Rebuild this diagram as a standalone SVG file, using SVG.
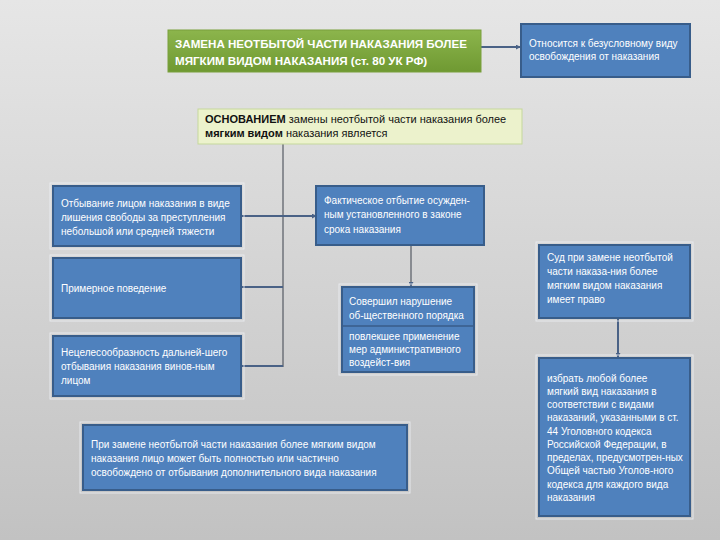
<svg xmlns="http://www.w3.org/2000/svg" width="720" height="540" viewBox="0 0 720 540">
<defs>
<linearGradient id="bg" x1="0" y1="0" x2="0" y2="1">
<stop offset="0" stop-color="#e6e6e6"/>
<stop offset="1" stop-color="#c2c2c2"/>
</linearGradient>
<linearGradient id="green" x1="0" y1="0" x2="0" y2="1">
<stop offset="0" stop-color="#8cb54c"/>
<stop offset="1" stop-color="#6f9932"/>
</linearGradient>
<marker id="arr" viewBox="0 0 6 6" refX="5" refY="3" markerWidth="5" markerHeight="5" markerUnits="userSpaceOnUse" orient="auto">
<path d="M0,0 L6,3 L0,6 z" fill="#4a6286"/>
</marker>
<style>
.box{fill:#4f81bd;stroke:#385d8a;stroke-width:2}
.halo{fill:none;stroke:#eef0f4;stroke-width:1;opacity:0.8}
.t{font-family:"Liberation Sans",Arial,sans-serif;font-size:10px;fill:#ffffff}
.tb{font-family:"Liberation Sans",Arial,sans-serif;font-size:11.6px;font-weight:bold;fill:#ffffff}
.tk{font-family:"Liberation Sans",Arial,sans-serif;font-size:11px;fill:#111111}
.conn{stroke:#4a6286;stroke-width:2;fill:none}
.thin{stroke:#555a63;stroke-width:1.2;fill:none}
</style>
</defs>
<rect width="720" height="540" fill="url(#bg)"/>

<g id="connectors">
<line class="conn" x1="481" y1="47" x2="520" y2="47" marker-end="url(#arr)"/>
<line class="thin" x1="283" y1="144" x2="283" y2="367"/>
<line class="conn" x1="241" y1="216" x2="316" y2="216" marker-start="url(#arr)" marker-end="url(#arr)"/>
<line class="conn" x1="241" y1="287" x2="283" y2="287" marker-start="url(#arr)"/>
<line class="conn" x1="241" y1="366" x2="283" y2="366" marker-start="url(#arr)"/>
<line class="thin" x1="411" y1="245" x2="411" y2="286" marker-end="url(#arr)"/>
<line class="conn" x1="618" y1="318" x2="618" y2="357" marker-end="url(#arr)"/>
</g>

<g id="title">
<rect x="168" y="30" width="313" height="42" fill="url(#green)" stroke="#7aa03c" stroke-width="1"/>
<text class="tb" x="175" y="48">ЗАМЕНА НЕОТБЫТОЙ ЧАСТИ НАКАЗАНИЯ БОЛЕЕ</text>
<text class="tb" x="175" y="65">МЯГКИМ ВИДОМ НАКАЗАНИЯ (ст. 80 УК РФ)</text>
</g>

<g id="node-otnositsya">
<rect class="box" x="521" y="24" width="169" height="53"/>
<text class="t" x="529" y="47">Относится к безусловному виду</text>
<text class="t" x="529" y="60">освобождения от наказания</text>
</g>

<g id="node-osnovaniem">
<rect x="198" y="109" width="324" height="35" fill="#ecf2cc" stroke="#c5d89c" stroke-width="1"/>
<text class="tk" x="205" y="123"><tspan font-weight="bold">ОСНОВАНИЕМ</tspan> замены неотбытой части наказания более</text>
<text class="tk" x="205" y="137"><tspan font-weight="bold">мягким видом</tspan> наказания является</text>
</g>

<g id="node-otbyvanie">
<rect class="halo" x="50" y="183" width="194" height="66"/>
<rect class="box" x="53" y="186" width="188" height="60"/>
<text class="t" x="61" y="207">Отбывание лицом наказания в виде</text>
<text class="t" x="61" y="221">лишения свободы за преступления</text>
<text class="t" x="61" y="235">небольшой или средней тяжести</text>
</g>

<g id="node-fakticheskoe">
<rect class="box" x="316" y="186" width="168" height="59"/>
<text class="t" x="324" y="204">Фактическое отбытие осужден-</text>
<text class="t" x="324" y="218">ным установленного в законе</text>
<text class="t" x="324" y="233">срока наказания</text>
</g>

<g id="node-primernoe">
<rect class="halo" x="50" y="255" width="194" height="66"/>
<rect class="box" x="53" y="258" width="188" height="60"/>
<text class="t" x="61" y="292">Примерное поведение</text>
</g>

<g id="node-necelesoobraznost">
<rect class="halo" x="50" y="333" width="194" height="66"/>
<rect class="box" x="53" y="336" width="188" height="60"/>
<text class="t" x="61" y="356">Нецелесообразность дальней-шего</text>
<text class="t" x="61" y="370">отбывания наказания винов-ным</text>
<text class="t" x="61" y="384">лицом</text>
</g>

<g id="node-sovershil">
<rect class="halo" x="339" y="284" width="138" height="91"/>
<rect class="box" x="342" y="287" width="132" height="85"/>
<line x1="342" y1="326" x2="474" y2="326" stroke="#385d8a" stroke-width="1.5"/>
<text class="t" x="349" y="305">Совершил нарушение</text>
<text class="t" x="349" y="319">об-щественного порядка</text>
<text class="t" x="349" y="340">повлекшее применение</text>
<text class="t" x="349" y="353">мер административного</text>
<text class="t" x="349" y="366">воздейст-вия</text>
</g>

<g id="node-sud">
<rect class="halo" x="536" y="242" width="157" height="79"/>
<rect class="box" x="539" y="245" width="151" height="73"/>
<text class="t" x="547" y="261">Суд при замене неотбытой</text>
<text class="t" x="547" y="275">части наказа-ния более</text>
<text class="t" x="547" y="289">мягким видом наказания</text>
<text class="t" x="547" y="303">имеет право</text>
</g>

<g id="node-izbrat">
<rect class="halo" x="536" y="355" width="157" height="164"/>
<rect class="box" x="539" y="358" width="151" height="158"/>
<text class="t" x="547" y="382">избрать любой более</text>
<text class="t" x="547" y="395">мягкий вид наказания в</text>
<text class="t" x="547" y="408">соответствии с видами</text>
<text class="t" x="547" y="421">наказаний, указанными в ст.</text>
<text class="t" x="547" y="435">44 Уголовного кодекса</text>
<text class="t" x="547" y="448">Российской Федерации, в</text>
<text class="t" x="547" y="461">пределах, предусмотрен-ных</text>
<text class="t" x="547" y="474">Общей частью Уголов-ного</text>
<text class="t" x="547" y="488">кодекса для каждого вида</text>
<text class="t" x="547" y="501">наказания</text>
</g>

<g id="node-pri-zamene">
<rect class="halo" x="80" y="422" width="330" height="71"/>
<rect class="box" x="83" y="425" width="324" height="65"/>
<text class="t" x="91" y="448">При замене неотбытой части наказания более мягким видом</text>
<text class="t" x="91" y="462">наказания лицо может быть полностью или частично</text>
<text class="t" x="91" y="476">освобождено от отбывания дополнительного вида наказания</text>
</g>
</svg>
